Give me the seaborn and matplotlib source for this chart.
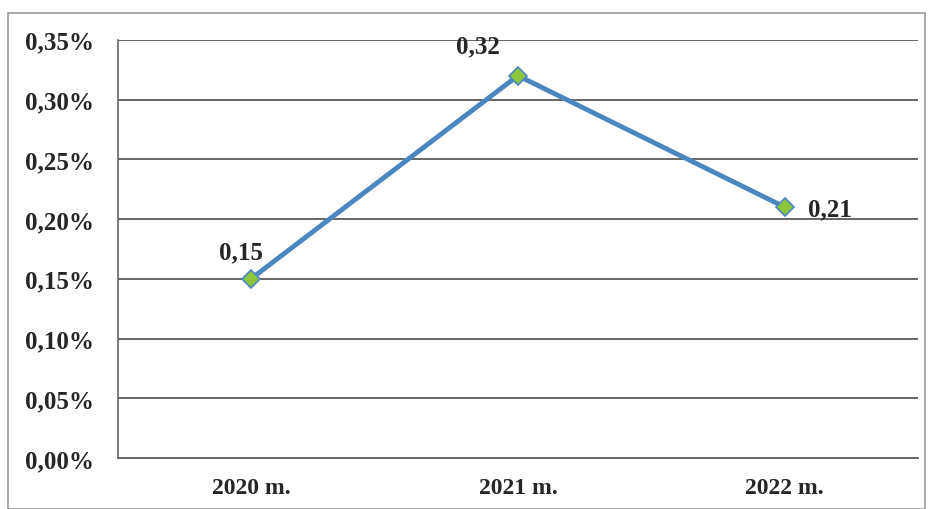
import matplotlib
matplotlib.use("Agg")
import matplotlib.pyplot as plt
import seaborn as sns
import pandas as pd
from matplotlib.patches import Rectangle
from matplotlib.ticker import FuncFormatter, MultipleLocator

categories = ["2020 m.", "2021 m.", "2022 m."]
values = [0.15, 0.32, 0.21]
labels = ["0,15", "0,32", "0,21"]

sns.set_style("white")
plt.rcParams['font.family'] = ['Liberation Serif', 'DejaVu Serif']

df = pd.DataFrame({"year": categories, "value": values})

fig = plt.figure(figsize=(9.34, 5.10), dpi=100)
ax = fig.add_axes([0.126, 0.10, 0.857, 0.82])

sns.lineplot(data=df, x="year", y="value", ax=ax, color="#4a86c0", linewidth=3.5,
             marker="D", markersize=9, markerfacecolor="#8cc63f",
             markeredgecolor="#4a86c0", markeredgewidth=1.2, sort=False)

ax.set_xlim(-0.5, 2.5)
ax.set_ylim(0, 0.35)
ax.yaxis.set_major_locator(MultipleLocator(0.05))
ax.yaxis.set_major_formatter(FuncFormatter(lambda v, p: f"{v:.2f}%".replace(".", ",")))
ax.grid(axis="y", color="#666666", linewidth=1.4)
ax.set_axisbelow(True)
ax.set_xlabel("")
ax.set_ylabel("")

for s in ["top", "right"]:
    ax.spines[s].set_visible(False)
ax.spines["left"].set_color("#666666")
ax.spines["bottom"].set_color("#666666")
ax.spines["left"].set_linewidth(1.2)
ax.spines["bottom"].set_linewidth(1.4)

ax.set_xticks([0, 1, 2])
ax.set_xticklabels(categories)
ax.set_xticks([-0.5, 0.5, 1.5, 2.5], minor=True)
ax.tick_params(axis="x", which="major", length=0, pad=14, labelsize=17)
ax.tick_params(axis="x", which="minor", length=6, color="#666666", direction="out", width=1)
ax.tick_params(axis="y", length=5, color="#666666", direction="out", width=1, labelsize=18, pad=12)
for t in ax.get_xticklabels() + ax.get_yticklabels():
    t.set_fontweight("bold")

offsets = [(-10, 27, "center", "center"), (-40, 30, "center", "center"), (23, -2, "left", "center")]
for i, (v, lab) in enumerate(zip(values, labels)):
    dx, dy, ha, va = offsets[i]
    ax.annotate(lab, (i, v), xytext=(dx, dy), textcoords="offset pixels",
                ha=ha, va=va, fontsize=18, fontweight="bold")

fig.patches.append(Rectangle((8/934, 0), 917/934, 496/510, transform=fig.transFigure,
                             fill=False, edgecolor="#9a9a9a", linewidth=1.2))

fig.savefig("out.png", dpi=100)
